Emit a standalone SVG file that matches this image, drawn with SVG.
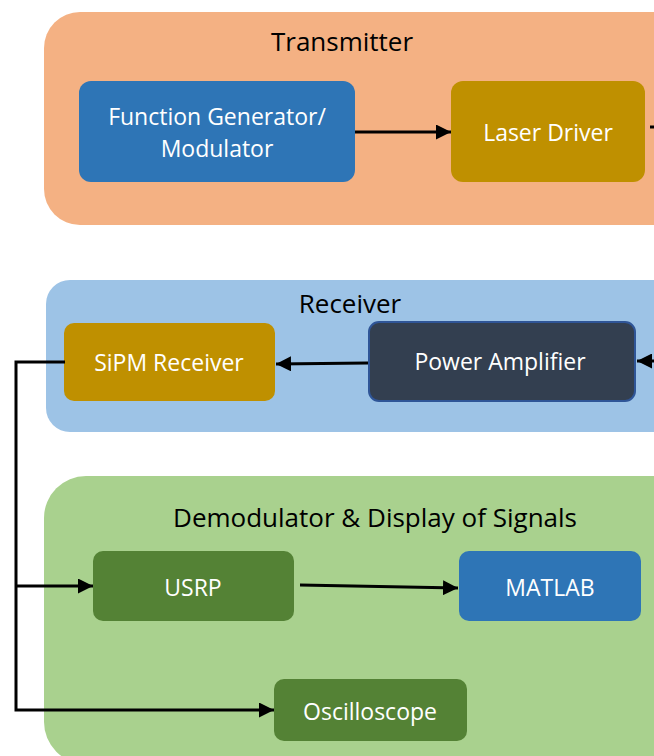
<svg xmlns="http://www.w3.org/2000/svg" width="654" height="756" viewBox="0 0 654 756">
<defs>
<marker id="ah" viewBox="0 0 10 10" refX="10" refY="5" markerWidth="5" markerHeight="5" orient="auto" markerUnits="strokeWidth"><path d="M0,0 L10,5 L0,10 z" fill="#000"/></marker>
<style>
.t{font-family:"Open Sans","Liberation Sans",sans-serif;text-anchor:middle;dominant-baseline:central}
.h{font-size:26px;fill:#000}
.n{font-size:23px;fill:#fff}
.c{stroke:#000;stroke-width:3;fill:none}
</style>
</defs>
<rect width="654" height="756" fill="#fff"/>
<g id="transmitter">
<rect x="44" y="12" width="660" height="213" rx="36" fill="#F4B183"/>
<text class="t h" x="342" y="41">Transmitter</text>
</g>
<g id="receiver">
<rect x="46" y="280" width="660" height="152" rx="24" fill="#9DC3E6"/>
<text class="t h" x="350" y="303">Receiver</text>
</g>
<g id="demodulator">
<rect x="44" y="476" width="660" height="288" rx="42" fill="#A9D18E"/>
<text class="t h" x="375" y="517">Demodulator &amp; Display of Signals</text>
</g>
<g id="funcgen">
<rect x="79" y="81" width="276" height="101" rx="12" fill="#2E75B6"/>
<text class="t n" x="217" y="116">Function Generator/</text>
<text class="t n" x="217" y="148">Modulator</text>
</g>
<g id="laser">
<rect x="451" y="81" width="194" height="101" rx="12" fill="#BF9000"/>
<text class="t n" x="548" y="132">Laser Driver</text>
</g>
<g id="sipm">
<rect x="64" y="323" width="211" height="78" rx="10" fill="#BF9000"/>
<text class="t n" x="169" y="362">SiPM Receiver</text>
</g>
<g id="amp">
<rect x="369" y="322" width="266" height="79" rx="10" fill="#333F50" stroke="#2F5597" stroke-width="2"/>
<text class="t n" x="500" y="361">Power  Amplifier</text>
</g>
<g id="usrp">
<rect x="93" y="551" width="201" height="70" rx="10" fill="#548235"/>
<text class="t n" x="193" y="587">USRP</text>
</g>
<g id="matlab">
<rect x="459" y="551" width="182" height="70" rx="10" fill="#2E75B6"/>
<text class="t n" x="550" y="587">MATLAB</text>
</g>
<g id="osc">
<rect x="274" y="679" width="193" height="62" rx="10" fill="#548235"/>
<text class="t n" x="370" y="711">Oscilloscope</text>
</g>
<g id="connectors">
<path class="c" d="M355,132 L451,132" marker-end="url(#ah)"/>
<path class="c" d="M650,127 L656,127"/>
<path class="c" d="M658,361 L637,361" marker-end="url(#ah)"/>
<path class="c" d="M368,363 L276,364" marker-end="url(#ah)"/>
<path class="c" d="M65,362 L16,362 L16,710 L274,710" marker-end="url(#ah)"/>
<path class="c" d="M16,586 L93,586" marker-end="url(#ah)"/>
<path class="c" d="M300,585 L458,588" marker-end="url(#ah)"/>
</g>
</svg>
